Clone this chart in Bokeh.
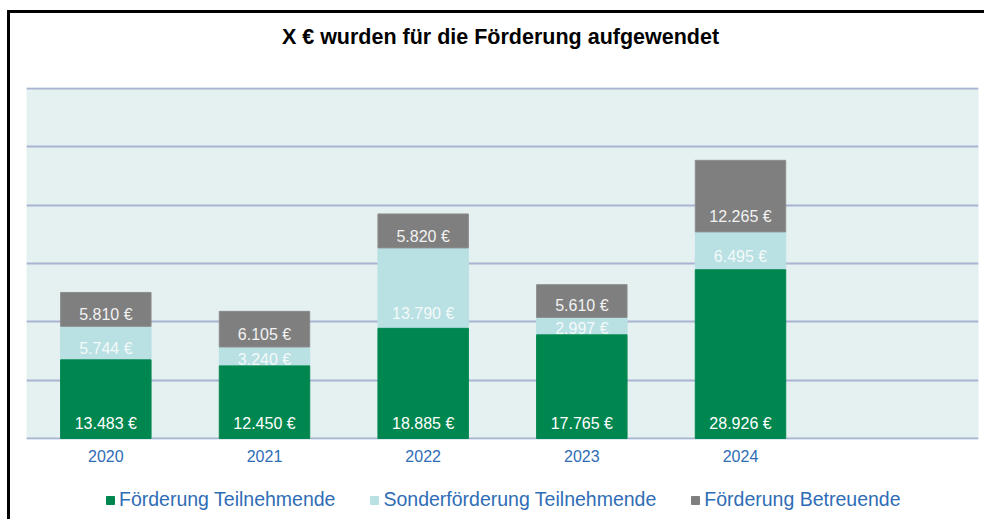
from bokeh.plotting import figure
from bokeh.layouts import column
from bokeh.models import (ColumnDataSource, FactorRange, Range1d, FixedTicker,
                          Legend, LegendItem, Label)
from bokeh.core.properties import value
from bokeh.embed import file_html
from bokeh.resources import INLINE

years = ["2020", "2021", "2022", "2023", "2024"]
foerderung_tn = [13483, 12450, 18885, 17765, 28926]
sonder_tn = [5744, 3240, 13790, 2997, 6495]
foerderung_betr = [5810, 6105, 5820, 5610, 12265]
series_names = ["Förderung Teilnehmende", "Sonderförderung Teilnehmende", "Förderung Betreuende"]
colors = ["#00874f", "#b9e0e3", "#7f7f7f"]
y_ticks = [0, 10000, 20000, 30000, 40000, 50000, 60000]
chart_title = "X € wurden für die Förderung aufgewendet"

FONT = "Liberation Sans"
BLUE = "#2f6db6"
W_ALL = 974

def fmt(v):
    return f"{v:,}".replace(",", ".") + " €"

def strip(h):
    f = figure(width=W_ALL, height=h, x_range=Range1d(0, 1), y_range=Range1d(0, 1),
               output_backend="svg", toolbar_location=None,
               min_border_left=0, min_border_right=0, min_border_top=0, min_border_bottom=0)
    f.axis.visible = False
    f.grid.grid_line_color = None
    f.outline_line_color = None
    f.background_fill_color = "#ffffff"
    f.border_fill_color = "#ffffff"
    return f

# ---- title strip ----
TH = 46
pt = strip(TH)
pt.add_layout(Label(x=474, y=TH / 2, x_units="screen", y_units="screen", text=chart_title,
                    text_align="center", text_baseline="middle", text_font=FONT,
                    text_font_size="21.5px", text_font_style="bold", text_color="#000000"))

# ---- main chart ----
factors = years + [" "]
p = figure(width=W_ALL, height=411, x_range=FactorRange(factors=factors),
           y_range=Range1d(-170, 60170), output_backend="svg", toolbar_location=None,
           min_border_left=16, min_border_right=6, min_border_top=28, min_border_bottom=31)
p.background_fill_color = "#e5f1f1"
p.border_fill_color = "#ffffff"
p.outline_line_color = None

b0 = [0] * len(years)
t0 = [a for a in foerderung_tn]
b1 = t0
t1 = [a + b for a, b in zip(t0, sonder_tn)]
b2 = t1
t2 = [a + b for a, b in zip(t1, foerderung_betr)]

def lab_y(bottom, vals):
    return [b + min(2570, max(1030, 0.35 * v)) for b, v in zip(bottom, vals)]

src_g = ColumnDataSource(dict(x=years, bottom=b0, top=t0, ly=lab_y(b0, foerderung_tn),
                              lab=[fmt(v) for v in foerderung_tn]))
src_l = ColumnDataSource(dict(x=years, bottom=b1, top=t1, ly=lab_y(b1, sonder_tn),
                              lab=[fmt(v) for v in sonder_tn]))
src_b = ColumnDataSource(dict(x=years, bottom=b2, top=t2, ly=lab_y(b2, foerderung_betr),
                              lab=[fmt(v) for v in foerderung_betr]))

W = 0.57
p.vbar(x="x", bottom="bottom", top="top", width=W, source=src_l,
       fill_color=colors[1], line_color=colors[1])
p.text(x="x", y="ly", text="lab", source=src_l, text_align="center", text_baseline="middle",
       text_font=value(FONT), text_font_size="16px", text_color="#f4fafa")
p.vbar(x="x", bottom="bottom", top="top", width=W, source=src_b,
       fill_color=colors[2], line_color="#8c8c8c")
p.text(x="x", y="ly", text="lab", source=src_b, text_align="center", text_baseline="middle",
       text_font=value(FONT), text_font_size="16px", text_color="#f2f2f2")
p.vbar(x="x", bottom="bottom", top="top", width=W, source=src_g,
       fill_color=colors[0], line_color=colors[0])
p.text(x="x", y="ly", text="lab", source=src_g, text_align="center", text_baseline="middle",
       text_font=value(FONT), text_font_size="16px", text_color="#ffffff")

p.yaxis.visible = False
p.yaxis.ticker = FixedTicker(ticks=y_ticks)
p.ygrid.ticker = FixedTicker(ticks=y_ticks)
p.ygrid.grid_line_color = "#a8b4d2"
p.ygrid.grid_line_width = 2
p.xgrid.grid_line_color = None
p.xaxis.axis_line_color = None
p.xaxis.major_tick_line_color = None
p.xaxis.minor_tick_line_color = None
p.xaxis.major_label_text_font = FONT
p.xaxis.major_label_text_font_size = "16px"
p.xaxis.major_label_text_color = BLUE
p.xaxis.major_label_standoff = 2

# ---- legend strip ----
pl = strip(49)
leg_r = [pl.vbar(x="x", top="top", width=0.1,
                 source=ColumnDataSource(dict(x=[-10.0], top=[-10.0])),
                 fill_color=c, line_color=c) for c in colors]
legend = Legend(items=[LegendItem(label=n, renderers=[r]) for n, r in zip(series_names, leg_r)],
                orientation="horizontal", location=(79, 8),
                label_text_font=FONT, label_text_font_size="19.5px", label_text_color=BLUE,
                glyph_width=10, glyph_height=10, label_standoff=4, spacing=34,
                border_line_color=None, background_fill_alpha=0, padding=4, margin=0)
pl.add_layout(legend, "center")

layout = column(pt, p, pl, spacing=0,
                styles={"border-left": "3px solid #000", "border-top": "3px solid #000",
                        "margin-left": "7px", "margin-top": "10px"})

open("out.html", "w").write(file_html(layout, INLINE))
